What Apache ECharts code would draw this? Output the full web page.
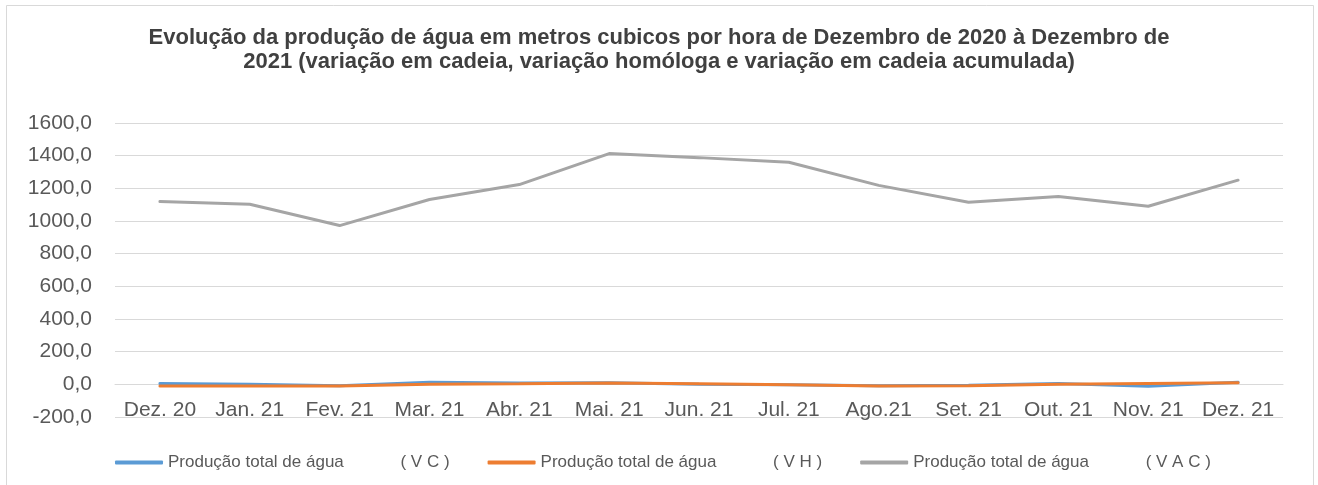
<!DOCTYPE html>
<html>
<head>
<meta charset="utf-8">
<script src="https://cdn.jsdelivr.net/npm/echarts@6/dist/echarts.min.js"></script>
<style>
  html, body { margin: 0; padding: 0; background: #fff; }
  #main { width: 1318px; height: 485px; }
</style>
</head>
<body>
<div id="main"></div>
<script>
// meses (eixo das categorias)
var categories = ['Dez. 20', 'Jan. 21', 'Fev. 21', 'Mar. 21', 'Abr. 21', 'Mai. 21', 'Jun. 21',
  'Jul. 21', 'Ago.21', 'Set. 21', 'Out. 21', 'Nov. 21', 'Dez. 21'];

// valores
var vc  = [5, 0, -8, 12, 8, 10, 0, -2, -8, -5, 5, -12, 12];
var vh  = [-10, -10, -10, 0, 3, 8, 3, -2, -10, -8, 0, 5, 10];
var vac = [1119, 1103, 972, 1132, 1223, 1413, 1388, 1360, 1218, 1115, 1150, 1090, 1250];

var yTicks = { min: -200, max: 1600, step: 200 };

var seriesNames = [
  'Produção total de água            ( V C )',
  'Produção total de água            ( V H )',
  'Produção total de água            ( V A C )'
];

var chart = echarts.init(document.getElementById('main'));

chart.setOption({
  backgroundColor: '#fff',
  animation: false,
  textStyle: { fontFamily: 'Liberation Sans, Arial, sans-serif' },
  title: {
    text: 'Evolução da produção de água em metros cubicos por hora de Dezembro de 2020 à Dezembro de\n2021 (variação em cadeia, variação homóloga e variação em cadeia acumulada)',
    left: 'center',
    top: 21,
    textStyle: {
      fontSize: 22,
      fontWeight: 'bold',
      color: '#404040',
      lineHeight: 24,
      fontFamily: 'Liberation Sans, Arial, sans-serif'
    }
  },
  graphic: [{
    type: 'rect',
    shape: { x: 6.5, y: 5.5, width: 1307, height: 500 },
    style: { fill: 'none', stroke: '#d9d9d9', lineWidth: 1 },
    silent: true
  }],
  legend: {
    left: 110,
    top: 449,
    itemWidth: 48,
    itemHeight: 4,
    itemGap: 38,
    icon: 'roundRect',
    textStyle: { fontSize: 17, color: '#595959' },
    data: seriesNames
  },
  grid: { left: 115, right: 35, top: 123, bottom: 68 },
  xAxis: {
    type: 'category',
    data: categories,
    boundaryGap: true,
    axisLine: { onZero: true, lineStyle: { color: '#d9d9d9', width: 1 } },
    axisTick: { show: false },
    axisLabel: { color: '#595959', fontSize: 21, margin: -17, interval: 0, hideOverlap: false }
  },
  yAxis: {
    type: 'value',
    min: yTicks.min,
    max: yTicks.max,
    interval: yTicks.step,
    axisLine: { show: false },
    axisTick: { show: false },
    splitLine: { lineStyle: { color: '#d9d9d9', width: 1 } },
    axisLabel: {
      color: '#595959',
      fontSize: 21,
      margin: 23,
      formatter: function (v) { return v.toFixed(1).replace('.', ','); }
    }
  },
  series: [
    { name: seriesNames[0], type: 'line', data: vc, showSymbol: false,
      lineStyle: { color: '#5b9bd5', width: 3, cap: 'round' }, itemStyle: { color: '#5b9bd5' } },
    { name: seriesNames[1], type: 'line', data: vh, showSymbol: false,
      lineStyle: { color: '#ed7d31', width: 3, cap: 'round' }, itemStyle: { color: '#ed7d31' } },
    { name: seriesNames[2], type: 'line', data: vac, showSymbol: false,
      lineStyle: { color: '#a5a5a5', width: 3, cap: 'round' }, itemStyle: { color: '#a5a5a5' } }
  ]
});
</script>
</body>
</html>
